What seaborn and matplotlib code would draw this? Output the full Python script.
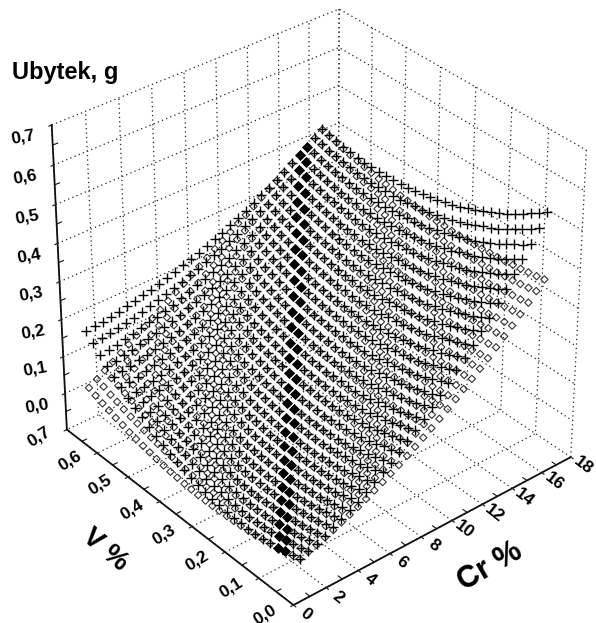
import numpy as np
import pandas as pd
import matplotlib
matplotlib.use("Agg")
import matplotlib.pyplot as plt
from mpl_toolkits.mplot3d import proj3d
import seaborn as sns

# grid of the two surfaces
cr_values = [0.40, 0.91, 1.41, 1.92, 2.43, 2.93, 3.44, 3.95, 4.45, 4.96, 5.47, 5.97, 6.48, 6.99, 7.49, 8.00,
             8.51, 9.01, 9.52, 10.03, 10.53, 11.04, 11.55, 12.05, 12.56, 13.07, 13.57, 14.08, 14.59, 15.09, 15.60]
v_values = [0.000, 0.021, 0.043, 0.064, 0.085, 0.107, 0.128, 0.149, 0.171, 0.192, 0.213, 0.235, 0.256, 0.277, 0.299, 0.320,
            0.341, 0.363, 0.384, 0.405, 0.427, 0.448, 0.469, 0.491, 0.512, 0.533, 0.555, 0.576, 0.597, 0.619, 0.640]

# Ubytek in g/1000, one row per V value
diamond_loss = [
    [13,20,27,35,43,52,61,70,80,91,102,113,125,138,151,164,178,192,207,222,238,254,270,287,305,323,341,360,380,400,420],
    [8,15,22,30,39,48,57,67,77,88,99,110,122,135,148,161,175,189,204,219,235,251,268,285,302,320,338,357,376,396,416],
    [3,10,18,26,35,44,53,63,74,85,96,108,120,132,146,159,173,187,202,217,233,249,266,282,300,318,336,355,374,393,413],
    [-2,6,14,22,31,40,50,60,71,82,93,105,118,130,143,157,171,185,200,215,231,247,263,280,297,315,333,352,371,390,410],
    [-6,2,10,19,28,38,48,58,69,80,92,104,116,129,142,155,170,184,199,214,230,246,262,279,296,313,331,350,369,388,408],
    [-10,-2,7,16,25,35,45,56,67,78,90,102,114,127,140,154,168,182,197,212,228,244,260,277,294,311,329,347,366,385,405],
    [-13,-5,4,14,23,33,44,54,65,77,89,101,113,126,140,153,168,182,197,212,227,243,260,276,293,311,328,347,365,384,403],
    [-16,-7,2,12,21,32,42,53,64,76,88,100,113,126,139,153,167,182,196,212,227,243,259,276,293,310,328,346,364,383,402],
    [-18,-9,0,10,20,30,41,52,64,75,87,100,113,126,139,153,167,182,196,211,227,243,259,275,292,309,327,345,363,381,400],
    [-20,-11,-1,9,19,30,41,52,63,75,88,100,113,126,140,153,168,182,197,212,227,243,259,276,292,309,327,344,362,381,399],
    [-21,-12,-2,8,19,29,41,52,64,76,88,101,113,127,140,154,168,183,198,213,228,244,260,276,293,310,327,344,362,380,399],
    [-22,-13,-3,8,19,30,41,52,64,76,89,101,114,128,141,155,169,184,199,214,229,245,260,277,293,310,327,344,362,380,398],
    [-23,-13,-3,8,19,30,41,53,65,77,90,103,116,129,143,157,171,185,200,215,230,246,262,278,294,311,328,345,363,380,398],
    [-23,-13,-2,9,20,31,43,54,66,79,91,104,117,131,145,158,173,187,202,217,232,247,263,279,296,312,329,346,363,381,399],
    [-23,-12,-1,10,21,32,44,56,68,81,93,106,120,133,147,161,175,189,204,219,234,250,265,281,297,314,330,347,364,382,399],
    [-22,-11,0,11,23,34,46,58,71,83,96,109,122,136,149,163,178,192,207,221,237,252,268,283,299,316,332,349,366,383,400],
    [-21,-10,2,13,25,36,48,61,73,86,99,112,125,139,152,166,181,195,210,224,239,255,270,286,302,318,334,351,368,385,402],
    [-19,-7,4,15,27,39,51,64,76,89,102,115,128,142,156,170,184,198,213,228,242,258,273,289,304,320,336,353,369,386,403],
    [-17,-5,6,18,30,42,54,67,80,92,105,119,132,146,159,173,188,202,216,231,246,261,276,292,307,323,339,355,372,388,405],
    [-14,-2,9,21,33,46,58,71,83,96,109,123,136,150,164,177,192,206,220,235,250,265,280,295,311,326,342,358,374,391,407],
    [-11,1,13,25,37,50,62,75,88,101,114,127,141,154,168,182,196,210,225,239,254,269,284,299,315,330,346,362,378,394,410],
    [-7,5,17,29,42,54,67,79,92,106,119,132,146,159,173,187,201,215,230,244,259,274,289,304,319,334,350,365,381,397,413],
    [-3,9,21,34,46,59,72,84,97,111,124,137,151,165,178,192,206,220,235,249,264,278,293,308,323,338,354,369,385,400,416],
    [1,14,26,39,51,64,77,90,103,116,129,143,156,170,184,198,212,226,240,255,269,284,298,313,328,343,358,373,389,404,420],
    [6,19,31,44,57,70,83,96,109,122,135,149,163,176,190,204,218,232,246,260,275,289,304,318,333,348,363,378,393,408,424],
    [12,24,37,50,63,76,89,102,115,129,142,155,169,183,196,210,224,238,252,266,281,295,310,324,339,353,368,383,398,413,428],
    [17,30,43,56,69,82,95,109,122,135,149,162,176,190,203,217,231,245,259,273,287,301,316,330,344,359,373,388,403,418,432],
    [24,37,50,63,76,89,102,116,129,142,156,169,183,197,210,224,238,252,266,280,294,308,322,336,351,365,379,394,408,423,437],
    [30,43,57,70,83,96,110,123,137,150,164,177,191,204,218,232,246,259,273,287,301,315,329,343,357,371,386,400,414,428,443],
    [37,51,64,77,91,104,118,131,145,158,172,185,199,212,226,240,253,267,281,295,309,322,336,350,364,378,392,406,420,434,448],
    [45,58,72,85,99,112,126,139,153,166,180,194,207,221,234,248,262,275,289,303,316,330,344,358,371,385,399,413,426,440,454],
]
cross_loss = [
    [14,22,30,40,50,61,72,84,97,112,127,142,158,176,194,213,233,253,274,296,319,342,366,391,417,444,471,499,529,559,589],
    [8,16,24,33,44,55,66,78,91,105,120,135,151,168,186,204,224,244,265,286,309,332,356,381,406,432,459,487,515,545,575],
    [3,10,19,28,38,49,60,72,85,99,113,129,145,161,179,197,216,236,257,278,300,323,347,370,396,422,448,476,504,532,562],
    [-2,6,14,23,33,43,55,67,80,93,107,122,139,155,172,190,209,228,249,270,292,314,337,361,385,411,437,464,492,520,549],
    [-5,2,10,19,29,40,51,63,76,89,103,118,133,150,167,184,203,222,242,263,285,307,329,353,377,401,427,454,481,509,538],
    [-9,-1,7,16,25,36,47,59,72,85,99,113,128,144,161,179,197,215,235,255,277,299,321,344,368,392,417,443,470,497,526],
    [-10,-4,5,14,23,33,45,56,68,82,96,110,124,140,157,174,193,211,230,250,270,292,315,337,360,385,409,435,461,488,515],
    [-12,-4,3,13,21,32,42,54,66,79,93,107,122,137,153,170,188,207,225,245,265,286,308,331,354,377,402,427,452,479,506],
    [-12,-5,3,11,21,30,41,52,65,77,90,105,120,135,150,167,184,203,221,240,260,281,302,324,347,370,394,419,444,469,496],
    [-11,-5,3,12,20,31,41,52,63,76,90,103,118,133,149,164,182,199,218,237,256,276,297,319,341,364,388,411,436,462,487],
    [-9,-3,4,12,22,30,42,52,64,76,89,103,116,132,147,163,179,197,215,234,253,273,293,314,336,359,382,405,429,454,480],
    [-7,-1,6,14,23,33,42,53,64,76,89,102,116,131,146,162,178,195,213,231,250,270,289,310,331,353,376,399,423,447,472],
    [-5,2,9,17,25,34,44,54,66,77,90,103,117,131,146,162,178,194,211,229,247,267,287,307,327,349,371,394,418,441,465],
    [-1,5,13,21,29,37,47,57,67,80,91,104,117,132,147,161,178,194,211,228,246,264,284,304,325,345,367,389,412,436,460],
    [4,10,17,25,33,41,50,60,71,82,94,106,120,133,148,163,178,194,211,228,245,264,282,302,322,343,363,385,407,431,454],
    [10,16,22,29,38,46,55,64,75,86,97,110,122,136,149,164,180,195,212,228,246,263,282,300,320,341,361,382,404,426,449],
    [16,22,29,35,43,51,60,70,79,90,102,113,126,139,152,166,182,197,213,229,246,264,281,300,319,339,359,380,401,423,445],
    [24,30,36,42,49,57,66,76,85,95,106,118,129,143,156,170,184,199,215,231,247,265,282,300,318,337,357,378,398,419,441],
    [32,38,43,50,57,64,72,82,92,101,111,123,135,147,160,173,188,202,217,233,249,266,283,301,318,337,356,376,397,417,438],
    [41,47,52,58,65,73,80,89,98,108,118,129,140,153,165,178,192,206,220,236,252,268,285,302,320,337,356,375,395,416,436],
    [51,56,62,68,74,82,89,97,106,116,126,136,147,158,171,183,197,210,225,239,255,271,287,304,322,339,357,376,395,415,435],
    [62,67,72,78,85,91,99,106,114,124,134,144,155,165,177,190,202,216,230,244,259,275,291,307,324,341,359,376,395,414,434],
    [74,78,83,89,95,102,109,116,124,133,142,152,163,174,184,196,209,221,236,249,264,278,294,310,326,343,361,378,396,414,433],
    [86,91,95,101,106,113,120,127,135,143,151,161,171,182,193,204,216,229,241,256,269,284,298,314,330,346,363,380,398,415,434],
    [99,104,108,113,119,125,132,139,146,154,162,171,181,191,202,213,224,236,249,261,276,289,304,318,334,350,366,383,400,417,435],
    [114,117,122,127,132,138,144,151,158,166,174,182,191,201,211,222,233,244,256,269,282,296,310,324,339,354,370,386,403,420,437],
    [128,132,136,141,146,151,157,164,171,178,186,194,203,212,221,232,243,254,265,277,290,302,317,330,344,359,374,390,406,423,439],
    [145,148,152,156,161,166,171,178,184,191,199,206,215,224,232,242,253,264,275,286,298,311,323,337,351,365,379,395,410,426,442],
    [161,164,168,172,176,181,187,192,199,205,213,220,228,236,245,254,264,274,285,296,307,319,332,344,358,371,386,400,415,430,446],
    [179,182,185,188,193,197,203,208,214,220,227,234,242,249,258,267,275,285,296,307,318,328,340,353,365,379,392,406,420,435,450],
    [197,200,203,206,210,214,219,224,230,235,242,249,256,264,271,280,289,297,307,318,328,339,350,362,374,386,400,413,426,440,455],
]
# the solid band runs along these column-minus-row offsets of the grid
filled_offsets = [-3, -2]

cr_ticks = [0, 2, 4, 6, 8, 10, 12, 14, 16, 18]
v_ticks = [0.0, 0.1, 0.2, 0.3, 0.4, 0.5, 0.6, 0.7]
z_ticks = [0.0, 0.1, 0.2, 0.3, 0.4, 0.5, 0.6, 0.7]
cr_labels = ["0", "2", "4", "6", "8", "10", "12", "14", "16", "18"]
v_labels = ["0,0", "0,1", "0,2", "0,3", "0,4", "0,5", "0,6", "0,7"]
z_labels = ["0,0", "0,1", "0,2", "0,3", "0,4", "0,5", "0,6", "0,7"]
cr_minor = [1, 3, 5, 7, 9, 11, 13, 15, 17]
v_minor = [0.05, 0.15, 0.25, 0.35, 0.45, 0.55, 0.65]
z_minor = [-0.05, 0.05, 0.15, 0.25, 0.35, 0.45, 0.55, 0.65]

sns.set_theme(style="white")
plt.rcParams["font.family"] = ["Liberation Sans", "DejaVu Sans"]
plt.rcParams["font.weight"] = "bold"

cr_grid, v_grid = np.meshgrid(cr_values, v_values)
rows, cols = np.indices(cr_grid.shape)
df = pd.DataFrame({
    "cr": cr_grid.ravel(),
    "v": v_grid.ravel(),
    "diamond": np.array(diamond_loss).ravel() / 1000,
    "cross": np.array(cross_loss).ravel() / 1000,
    "band": np.isin((cols - rows).ravel(), filled_offsets),
})
open_pts = df[~df.band]
band_pts = df[df.band]

fig = plt.figure(figsize=(5.96, 6.23), dpi=100)
ax = fig.add_axes([11.2 / 596, 8.2 / 623, 1, 1], projection="3d", computed_zorder=False)
# keep the axes box as given, mplot3d would squeeze it to a square
ax.apply_aspect = lambda position=None: None
ax.set_xlim(0, 18, view_margin=0)
ax.set_ylim(0, 0.7, view_margin=0)
ax.set_zlim(-0.1, 0.7, view_margin=0)
ax.view_init(elev=32.25, azim=-129.88)
ax.set_proj_type("persp", focal_length=0.968)
ax.set_box_aspect((3.718, 3.731, 3.495), zoom=1.0183)

ax.set_xticks(cr_ticks, labels=[""] * len(cr_ticks))
ax.set_yticks(v_ticks, labels=[""] * len(v_ticks))
ax.set_zticks(z_ticks, labels=[""] * len(z_ticks))

for axis in (ax.xaxis, ax.yaxis, ax.zaxis):
    axis.set_pane_color((1, 1, 1, 1))
    axis.pane.set_edgecolor("none")
    axis.line.set_color("#111111")
    axis.line.set_linewidth(1.3)
    axis._axinfo["grid"].update(color="#222222", linewidth=0.9, linestyle=(0, (1, 2.6)))
    axis._axinfo["tick"].update(inward_factor=0.12, outward_factor=0.0, linewidth={True: 0.9, False: 0.5})


def tick_text(x, y, z, label, angle):
    # native 3d tick labels can't be nudged or turned freely, so project the spot and write it in 2d
    px, py, _ = proj3d.proj_transform(x, y, z, ax.get_proj())
    ax.text2D(px, py, label, transform=ax.transData, rotation=angle, fontsize=12.5,
              ha="center", va="center", color="black")


for c, lab in zip(cr_ticks, cr_labels):
    tick_text(c, -0.035, -0.1, lab, -38)
for v, lab in zip(v_ticks, v_labels):
    tick_text(-1.7, v, -0.085, lab, 32)
for z, lab in zip(z_ticks, z_labels):
    tick_text(-1.7, 0.7, z, lab, 10)

# half-step ticks, mplot3d has no minor ticks of its own
for c in cr_minor:
    ax.plot([c, c], [0, 0.012], [-0.1, -0.1], color="#111111", lw=0.8)
for v in v_minor:
    ax.plot([0, 0.3], [v, v], [-0.1, -0.1], color="#111111", lw=0.8)
for z in z_minor:
    ax.plot([0, 0.3], [0.7, 0.7], [z, z], color="#111111", lw=0.8)

ax.scatter(open_pts.cr, open_pts.v, open_pts.diamond, marker="D", s=14, facecolors="none",
           edgecolors="#333333", linewidths=0.8, depthshade=False, zorder=5)
ax.scatter(open_pts.cr, open_pts.v, open_pts.cross, marker="+", s=46, color="black",
           linewidths=1.0, depthshade=False, zorder=6)
ax.scatter(band_pts.cr, band_pts.v, band_pts.diamond, marker="D", s=32, color="black",
           linewidths=0, depthshade=False, zorder=7)

fig.text(12 / 596, 1 - 72 / 623, "Ubytek, g", fontsize=17, fontweight="bold", va="center", ha="left", color="black")
fig.text(490 / 596, 1 - 567 / 623, "Cr %", fontsize=22, fontweight="bold", rotation=30, va="center", ha="center", color="black")
fig.text(105 / 596, 1 - 550 / 623, "V %", fontsize=20, fontweight="bold", rotation=-40, va="center", ha="center", color="black")

fig.savefig("out.png", dpi=100)
